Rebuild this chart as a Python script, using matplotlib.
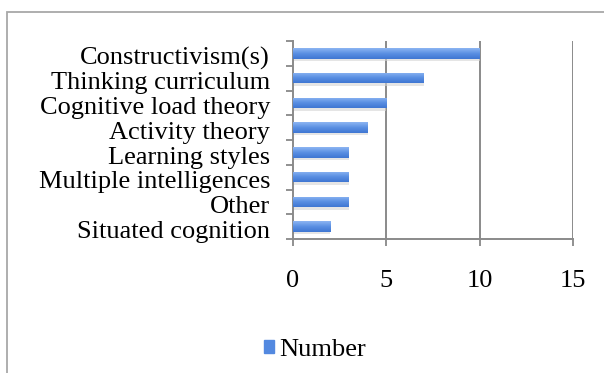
import matplotlib
matplotlib.use("Agg")
import matplotlib.pyplot as plt
import matplotlib.transforms as mtransforms
from matplotlib.colors import LinearSegmentedColormap
from matplotlib.patches import Rectangle
import numpy as np

# survey counts per theory
categories = ["Constructivism(s)", "Thinking curriculum", "Cognitive load theory",
              "Activity theory", "Learning styles", "Multiple intelligences",
              "Other", "Situated cognition"]
counts = [10, 7, 5, 4, 3, 3, 3, 2]
xticks = [0, 5, 10, 15]

plt.rcParams["font.family"] = ["Liberation Serif", "DejaVu Serif"]
FS = 19
BLUE = "#5389e0"

W, H = 604, 373
fig = plt.figure(figsize=(W / 100, H / 100), dpi=100)
fig.set_facecolor("white")

# outer chart frame (runs off the right and bottom edges)
fig.patches.append(Rectangle((7 / W, -0.1), 1.2, 1.1 - 12 / H,
                             transform=fig.transFigure, fill=False,
                             edgecolor="#a8a8a8", linewidth=1.3))

ax = fig.add_axes([293 / W, 1 - 239 / H, (573 - 293) / W, (239 - 41) / H])
ypos = np.arange(len(categories))

# soft shadow under each bar
ax.barh(ypos + 0.1, counts, height=0.42, color="#d4d4d4", alpha=0.6,
        edgecolor="none", zorder=2)
bars = ax.barh(ypos, counts, height=0.42, color=BLUE, edgecolor="none", zorder=3)

# vertical shading on the bars: darker bottom, light top (y axis is inverted)
shade = LinearSegmentedColormap.from_list("shade", ["#3f76d2", "#5a8fe3", "#8db5f2"])
grad = np.linspace(0, 1, 64).reshape(-1, 1)
for b in bars:
    x0, y0 = b.get_x(), b.get_y()
    im = ax.imshow(grad, cmap=shade, aspect="auto", interpolation="bilinear",
                   extent=(x0, x0 + b.get_width(), y0 + b.get_height(), y0),
                   origin="lower", zorder=4)
    im.set_clip_path(b)

ax.set_xlim(0, 15)
ax.set_ylim(len(categories) - 0.5, -0.5)

ax.set_xticks(xticks)
ax.set_xticklabels([str(t) for t in xticks], fontsize=FS)
ax.tick_params(axis="x", direction="out", length=5, width=1.3, color="#888888", pad=17)

ax.set_yticks(np.arange(-0.5, len(categories), 1.0))
ax.set_yticklabels([])
ax.set_yticks(ypos, minor=True)
ax.set_yticklabels(categories, minor=True, fontsize=FS)
ax.tick_params(axis="y", which="major", direction="out", length=5, width=1.3, color="#888888")
ax.tick_params(axis="y", which="minor", length=0, pad=16.5)
shift = mtransforms.ScaledTranslation(0, -2 / 72, fig.dpi_scale_trans)
for lbl in ax.get_yticklabels(minor=True):
    lbl.set_transform(lbl.get_transform() + shift)

for x in xticks[1:]:
    ax.axvline(x, color="#8a8a8a", linewidth=1.4, zorder=1)

for side in ["top", "right"]:
    ax.spines[side].set_visible(False)
for side in ["left", "bottom"]:
    ax.spines[side].set_color("#8a8a8a")
    ax.spines[side].set_linewidth(1.4)

# legend below the plot area
fig.legend(handles=[Rectangle((0, 0), 1, 1, color=BLUE)], labels=["Number"],
           loc="center", bbox_to_anchor=(315 / W, 1 - 350 / H), frameon=False,
           fontsize=FS, handlelength=0.4, handleheight=0.4, handletextpad=0.2)

fig.savefig("out.png", dpi=100)
